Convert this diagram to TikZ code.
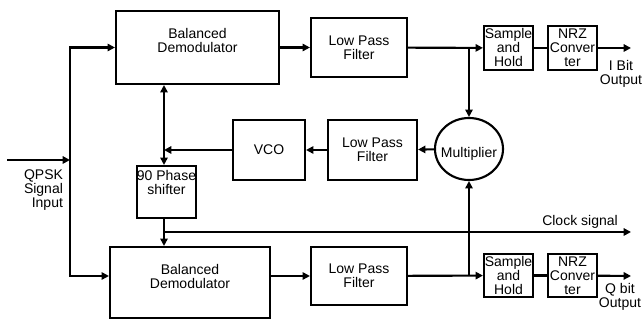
\documentclass[tikz,border=0pt]{standalone}
\usepackage{fontspec}
\setmainfont{Liberation Sans}
\usetikzlibrary{shapes.geometric,arrows.meta}

\begin{document}
\begin{tikzpicture}[x=0.75pt,y=-0.75pt,line width=1.6pt,
  >={Triangle[length=5.5pt,width=5.5pt]},
  box/.style 2 args={draw,minimum width=#1*0.75pt,minimum height=#2*0.75pt,inner sep=0pt,
    align=center,font=\fontsize{10.5}{10.5}\selectfont},
  txt/.style={align=center,inner sep=0pt,font=\fontsize{10.5}{10.5}\selectfont}]
\useasboundingbox (0,0) rectangle (643,323);

\node[box={163}{73}] (bdI) at (197.5,47.5) {};
\node[box={160}{71}] (bdQ) at (190,282.5) {};
\node[txt] (bdItext) at (197.5,41) {Balanced\\Demodulator};
\node[txt] (bdQtext) at (190,276) {Balanced\\Demodulator};

\node[box={96}{59}] (lpfI) at (359,47.5) {Low Pass\\Filter};
\node[box={96}{58}] (lpfQ) at (359,276) {Low Pass\\Filter};
\node[box={89}{60}] (lpfM) at (372.5,150) {Low Pass\\Filter};
\node[box={72}{60}] (vco) at (269,150) {VCO};
\node[box={59}{52}] (ps) at (166.5,192) {};
\node[txt,anchor=north] (pstext) at (166.5,169) {90 Phase\\shifter};

\node[draw,ellipse,minimum width=68*0.75pt,minimum height=62*0.75pt,inner sep=0pt] (mult) at (469,149) {};
\node[txt] (multtext) at (469,154) {Multiplier};

\node[box={49}{44}] (shI) at (508.5,48) {Sample\\and\\Hold};
\node[box={49}{44}] (nrzI) at (572.5,48) {NRZ\\Conver\\ter};
\node[box={49}{43}] (shQ) at (508.5,275.5) {Sample\\and\\Hold};
\node[box={49}{43}] (nrzQ) at (572.5,275.5) {NRZ\\Conver\\ter};

\coordinate (qin) at (7,160);
\coordinate (qsplit) at (70,160);
\coordinate (jI) at (469,48);
\coordinate (jQ) at (469,276);
\coordinate (vcoj) at (164,150);
\coordinate (clk) at (164,232);
\coordinate (clkout) at (631,232);
\coordinate (iout) at (631,48);
\coordinate (qout) at (631,276);

\draw[->] (qin) -- (qsplit);
\draw[->] (qsplit) |- (bdI);
\draw[->] (qsplit) |- (bdQ.west |- lpfQ);
\draw[->] (bdI) -- (lpfI);
\draw[->] (bdQ.east |- lpfQ) -- (lpfQ);
\draw[->] (lpfI) -- (shI);
\draw[->] (lpfQ) -- (shQ);
\draw (shI) -- (nrzI);
\draw (shQ) -- (nrzQ);
\draw[->] (nrzI) -- (iout);
\draw[->] (nrzQ) -- (qout);
\draw[->] (jI) -- (mult);
\draw[->] (jQ) -- (mult);
\draw[->] (mult) -- (lpfM);
\draw[->] (lpfM) -- (vco);
\draw[->] (vco) -- (vcoj);
\draw[<->] (bdI.south -| vcoj) -- (ps.north -| vcoj);
\draw[->] (ps.south -| vcoj) -- (bdQ.north -| vcoj);
\draw[->] (clk) -- (clkout);

\node[txt,align=right,anchor=north east] (qpsk) at (64,169) {QPSK\\Signal\\Input};
\node[txt,anchor=north] (ilabel) at (621,59) {I Bit\\Output};
\node[txt,anchor=north] (qlabel) at (620,282) {Q bit\\Output};
\node[txt,anchor=south] (clklabel) at (580,229) {Clock signal};
\end{tikzpicture}
\end{document}
